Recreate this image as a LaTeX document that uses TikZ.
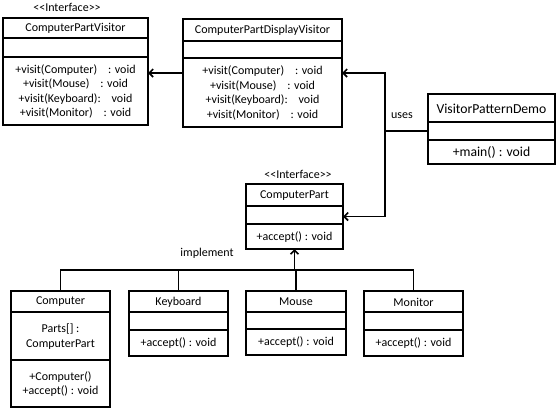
\documentclass[tikz,border=0pt]{standalone}
\usepackage{fontspec}
\setmainfont{Carlito}
\usetikzlibrary{arrows.meta}
\tikzset{
  classbox/.style={draw=black, line width=1.6pt, inner sep=0pt, outer sep=0pt, fill=white},
  classline/.style={draw=black, line width=1.6pt},
  txt/.style={font=\fontsize{12}{14.5}\selectfont, inner sep=0pt, align=center, text=black},
  conn/.style={draw=black, line width=1.8pt},
  arr/.style={conn, -{Straight Barb[length=4pt,width=8pt,line width=1.6pt]}}
}
\newcommand\umlclass[9]{%
  \pgfmathsetmacro\cw{#4-#2}\pgfmathsetmacro\ch{#5-#3}%
  \node[classbox, anchor=north west, minimum width=\cw pt, minimum height=\ch pt] (#1) at (#2,#3) {};
  \draw[classline] (#2,#6) -- (#4,#6) (#2,#7) -- (#4,#7);
  \node[txt] at ({(#2+#4)/2},{(#3+#6)/2+0.5}) {#8};
  \node[txt] at ({(#2+#4)/2},{(#7+#5)/2+0.5}) {#9};
}
\begin{document}
\begin{tikzpicture}[x=1pt,y=-1pt]
\useasboundingbox (0,0) rectangle (560,413);
\umlclass{cpv}{3}{18}{148}{125}{38}{57}{ComputerPartVisitor}{+visit(Computer)\ \ \ \ : void\\+visit(Mouse)\ \ \ \ : void\\+visit(Keyboard):\ \ \ \ void\\+visit(Monitor)\ \ \ \ : void}
\umlclass{cpdv}{183}{19}{342}{127}{41}{58}{ComputerPartDisplayVisitor}{+visit(Computer)\ \ \ \ : void\\+visit(Mouse)\ \ \ \ : void\\+visit(Keyboard):\ \ \ \ void\\+visit(Monitor)\ \ \ \ : void}
\umlclass{vpd}{428}{94}{555}{164}{122}{140}{\fontsize{13.7}{15}\selectfont VisitorPatternDemo}{\fontsize{13.7}{15}\selectfont +main() : void}
\umlclass{cp}{246}{184}{343}{249}{206}{224}{ComputerPart}{+accept() : void}
\umlclass{computer}{11}{291}{110}{407}{312}{360}{Computer}{+Computer()\\+accept() : void}
\node[txt] (attrs) at (60.5,336.5) {Parts[] :\\ComputerPart};
\umlclass{keyboard}{129}{291}{228}{356}{312}{330}{Keyboard}{+accept() : void}
\umlclass{mouse}{246}{291}{346}{355}{312}{329}{Mouse}{+accept() : void}
\umlclass{monitor}{364}{291}{463}{356}{312}{330}{Monitor}{+accept() : void}
\node[txt] (i1) at (67,7) {<\kern0pt<Interface>\kern0pt>};
\node[txt] (i2) at (298,174) {<\kern0pt<Interface>\kern0pt>};
\node[txt] (uses) at (402,116) {uses};
\node[txt] (impl) at (207,253) {implement};
% connectors
\draw[arr] (cpdv.west) -- (cpdv.west -| cpv.east);
\coordinate (j) at (385,131);
\draw[conn] (vpd.west |- j) -- (j);
\draw[arr] (j) |- (cpdv.east);
\draw[arr] (j) |- (cp.east);
\coordinate (bus) at (295,270);
\draw[conn] (computer.north) |- (monitor.north |- bus) -- (monitor.north);
\draw[conn] (keyboard.north) -- (keyboard.north |- bus);
\draw[conn] (mouse.north) -- (mouse.north |- bus);
\draw[arr] (cp.south |- bus) -- (cp.south);
\end{tikzpicture}
\end{document}
